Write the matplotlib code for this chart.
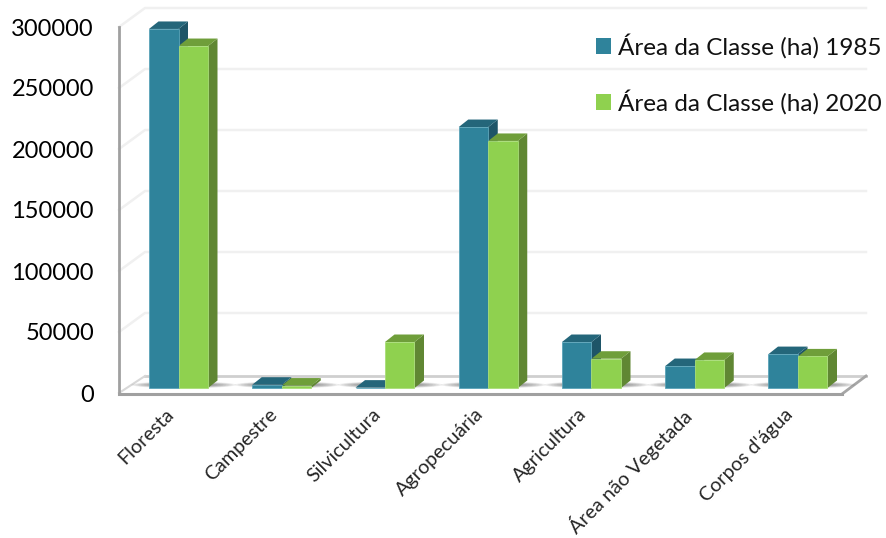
import matplotlib
matplotlib.use("Agg")
import matplotlib.pyplot as plt
from matplotlib.patches import Polygon, Ellipse
from matplotlib.transforms import ScaledTranslation

categories = ["Floresta", "Campestre", "Silvicultura", "Agropecuária",
              "Agricultura", "Área não Vegetada", "Corpos d'água"]
area_1985 = [294300, 2700, 300, 213900, 37700, 18000, 27800]
area_2020 = [280300, 2000, 37700, 202500, 24000, 23000, 25900]
series_labels = ["Área da Classe (ha) 1985", "Área da Classe (ha) 2020"]
y_ticks = [0, 50000, 100000, 150000, 200000, 250000, 300000]

W, H = 887, 538
plt.rcParams['font.family'] = ['Lato', 'DejaVu Sans']
fig = plt.figure(figsize=(W / 100, H / 100), dpi=100, facecolor='white')

# pixel layout
L, R, TOP, BOT = 119, 842, 27, 393
GROUP0, GROUP_STEP = 178.5, 103.25
LIFT = 5
DX, DY = 9.5, 7.5
BAR_PX = 29.5

def box(top, bot):
    return [L / W, 1 - bot / H, (R - L) / W, (bot - top) / H]

xlim = ((L - GROUP0) / GROUP_STEP, (R - GROUP0) / GROUP_STEP)
ylim = (0, 300000)

# decoration axes, in pixels
deco = fig.add_axes([0, 0, 1, 1], zorder=0)
deco.set_xlim(0, W); deco.set_ylim(H, 0); deco.axis('off')
BX0, BY0, BX1 = 145, 376, 866
for v in y_ticks[1:]:
    fy = BOT - (BOT - TOP) * v / 300000
    by = BY0 - (BOT - TOP) * v / 300000 - 2
    deco.plot([L, BX0, BX1], [fy, by, by], color='#f0f0f0', lw=1.8, solid_joinstyle='round')
deco.add_patch(Polygon([(L, BOT), (R, BOT), (BX1, BY0), (BX0, BY0)], closed=True,
                       facecolor='white', edgecolor='none'))
deco.plot([BX0, BX1], [BY0, BY0], color='#cfcfcf', lw=2)
deco.plot([L, BX0], [BOT, BY0], color='#d8d8d8', lw=1.5)
deco.plot([R, BX1], [BOT + 1, BY0], color='#a6a6a6', lw=2)
deco.plot([L, R], [BOT + 1, BOT + 1], color='#a0a0a0', lw=2.2)

# frame axes with the tick labels
ax = fig.add_axes(box(TOP, BOT), zorder=1)
ax.patch.set_alpha(0)
ax.set_xlim(*xlim); ax.set_ylim(*ylim)
for s in ('top', 'right', 'bottom'):
    ax.spines[s].set_visible(False)
ax.spines['left'].set_color('#a0a0a0'); ax.spines['left'].set_linewidth(2)
ax.set_yticks(y_ticks)
ax.set_yticklabels([str(v) for v in y_ticks], fontsize=17.0, color='black')
ax.tick_params(axis='y', length=0, pad=18)
ax.set_xticks(range(len(categories)))
ax.set_xticklabels(categories, rotation=45, ha='right', va='top',
                   rotation_mode='anchor', fontsize=14.2, color='#262626')
ax.tick_params(axis='x', length=0, pad=9)
shift = ScaledTranslation(-0.135, 0, fig.dpi_scale_trans)
for lab in ax.get_xticklabels():
    lab.set_transform(lab.get_transform() + shift)

# bar axes: same scale, raised to the floor depth
bx = fig.add_axes(box(TOP - LIFT, BOT - LIFT), zorder=2, sharex=ax, sharey=ax)
bx.patch.set_alpha(0); bx.axis('off')
dx = DX / GROUP_STEP
dy = DY * 300000 / (BOT - TOP)
bw = BAR_PX / GROUP_STEP

series = [
    (area_1985, -bw / 2, '#2f839b', '#24667a', '#1e5568', '#5aa3b8'),
    (area_2020, bw / 2, '#8fd14f', '#6f9e3a', '#608733', '#a9dd78'),
]

# soft floor shadows
for i in range(len(categories)):
    for k in range(8):
        bx.add_patch(Ellipse((i + 0.05, dy * 0.42), (2.9 * bw + dx * 2) * (1 - k * 0.06),
                             dy * 0.9 * (1 - k * 0.1), facecolor='#444444',
                             edgecolor='none', alpha=0.09, clip_on=False, zorder=1))

handles = []
for vals, off, front, top, side, edge in series:
    xs = [i + off for i in range(len(vals))]
    for x, v in zip(xs, vals):
        l, r = x - bw / 2, x + bw / 2
        bx.add_patch(Polygon([(r, 0), (r + dx, dy), (r + dx, v + dy), (r, v)],
                             facecolor=side, edgecolor='none', zorder=3, clip_on=False))
        bx.add_patch(Polygon([(l, v), (l + dx, v + dy), (r + dx, v + dy), (r, v)],
                             facecolor=top, edgecolor='none', zorder=3, clip_on=False))
    h = bx.bar(xs, vals, width=bw, color=front, edgecolor=edge, linewidth=0.6,
               zorder=4, clip_on=False)
    handles.append(h)

leg = fig.legend(handles, series_labels, loc='upper left',
                 bbox_to_anchor=(594 / W, 1 - 31 / H), frameon=False,
                 fontsize=17.5, labelspacing=1.28, handlelength=0.62,
                 handleheight=0.6, handletextpad=0.28, borderpad=0.1, borderaxespad=0,
                 labelcolor='#111111')
for t in leg.get_patches():
    t.set_edgecolor('none')

fig.savefig('out.png', dpi=100, facecolor='white')
